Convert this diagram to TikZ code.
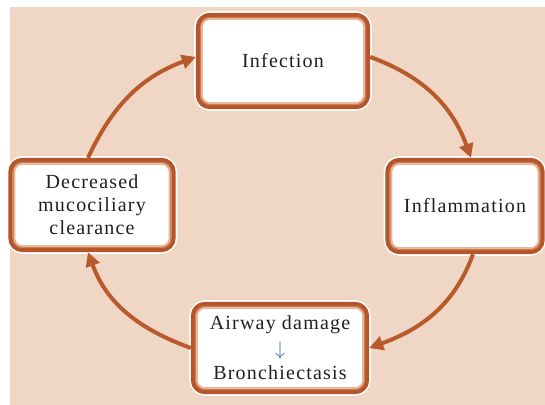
\documentclass[tikz,border=0pt]{standalone}
\usepackage{fontspec}
\setmainfont{Liberation Serif}[LetterSpace=6]
\usetikzlibrary{calc,arrows.meta}
\definecolor{bgpeach}{HTML}{F0D6C5}
\definecolor{boxdark}{HTML}{B5562A}
\definecolor{boxmid}{HTML}{CC7D52}
\definecolor{boxlight}{HTML}{E8B89A}
\definecolor{arrbrown}{HTML}{B85A2B}
\definecolor{txtdark}{HTML}{231F20}
\definecolor{downblue}{HTML}{3A6EA5}
\tikzstyle{stage}=[shape=rectangle, rounded corners=6pt, fill=white, draw=boxdark, line width=2.2pt, inner sep=0, align=center, text=txtdark, font=\fontsize{10}{11.5}\selectfont, preaction={draw=white, line width=3.8pt}]
\tikzstyle{cyc}=[arrbrown, line width=2pt, -{Triangle[length=7pt,width=7pt]}]

\begin{document}
\begin{tikzpicture}[x=0.5pt, y=0.5pt]
\useasboundingbox (0,0) rectangle (545,405);
\fill[bgpeach] (10,0) rectangle (545,398);
%
\draw (283,344) node[stage, minimum width=85pt, minimum height=46pt] (inf) {Infection};
\draw (465,199) node[stage, minimum width=77.5pt, minimum height=46pt] (infl) {Inflammation};
\draw (280,57) node[stage, minimum width=87pt, minimum height=44pt] (air) {Airway damage\\[1.5pt] {\color{downblue}$\downarrow$}\\[0.5pt] Bronchiectasis};
\draw (92,200) node[stage, minimum width=81.5pt, minimum height=45pt] (dec) {Decreased\\ mucociliary\\ clearance};
%
\foreach \n in {inf,infl,air,dec}
    {
	\draw[boxmid, line width=0.8pt, rounded corners=4.5pt] ([shift={(2.4pt,2.4pt)}]\n.south west) rectangle ([shift={(-2.4pt,-2.4pt)}]\n.north east);
	\draw[boxlight, line width=0.8pt, rounded corners=4pt] ([shift={(3.1pt,3.1pt)}]\n.south west) rectangle ([shift={(-3.1pt,-3.1pt)}]\n.north east);}
%
\draw[cyc] ([xshift=-2pt]dec.north) to[out=65, in=200] ([yshift=2pt]inf.west);
\draw[cyc] ([yshift=2pt]inf.east) to[out=-20, in=110] ([xshift=3pt]infl.north);
\draw[cyc] ([xshift=4pt]infl.south) to[out=-110, in=20] (air.east);
\draw[cyc] (air.west) to[out=160, in=-70] ([xshift=-2pt]dec.south);
\end{tikzpicture}
\end{document}
